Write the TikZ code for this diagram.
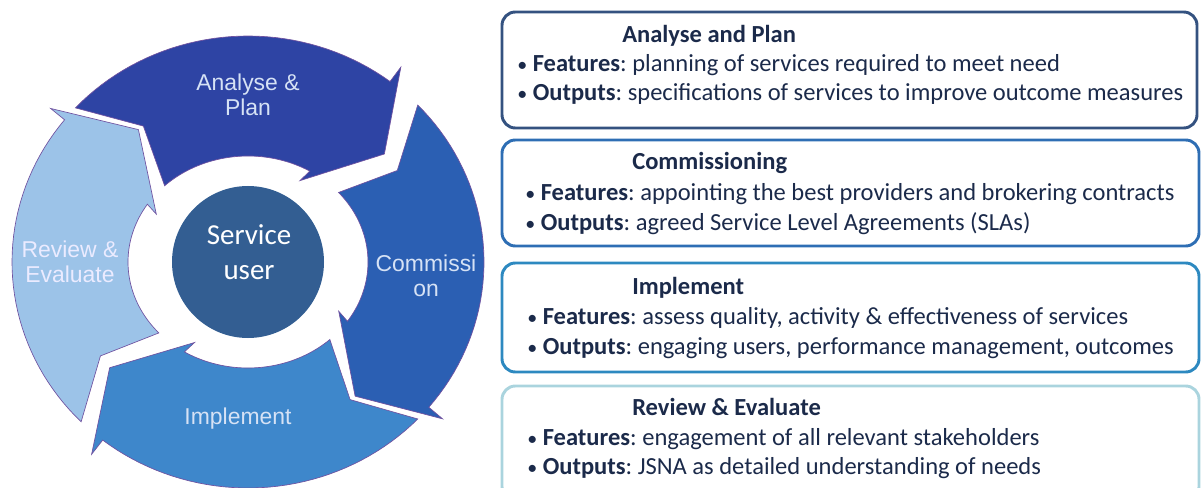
\documentclass[tikz,border=0pt]{standalone}
\usepackage{fontspec}
\setmainfont{Carlito}
\newfontfamily\ringfont{Liberation Sans}
\usepackage{tikz}
\usetikzlibrary{positioning}

\definecolor{analyse}{RGB}{46,68,164}
\definecolor{commission}{RGB}{43,95,179}
\definecolor{implement}{RGB}{62,135,203}
\definecolor{review}{RGB}{156,195,232}
\definecolor{hub}{RGB}{51,94,146}
\definecolor{rim}{RGB}{112,82,160}
\definecolor{ink}{RGB}{27,42,74}
\definecolor{pale}{RGB}{214,226,245}
\definecolor{frameA}{RGB}{52,82,128}
\definecolor{frameB}{RGB}{46,110,180}
\definecolor{frameC}{RGB}{45,137,192}
\definecolor{frameD}{RGB}{170,212,222}

\newcommand{\dotitem}{{\fontsize{15}{15}\selectfont•}\ }

\frenchspacing

\begin{document}
\begin{tikzpicture}[x=0.75pt,
            y=-0.75pt,
            ringarrow/.style={draw=rim, line width=0.5pt},
            ringtext/.style={font=\ringfont\fontsize{17.2}{18.8}\selectfont,
                             align=center, text=pale, inner sep=0pt},
            hubtext/.style={font=\fontsize{21.7}{26.3}\selectfont,
                            align=center, text=white, inner sep=0pt},
            infobox/.style={line width=2.2pt, rounded corners=10pt},
            boxtitle/.style={anchor=base west, inner sep=0pt, text=ink,
                             font=\bfseries\fontsize{18.4}{22}\selectfont},
            boxline/.style={anchor=base west, inner sep=0pt, text=ink,
                            font=\fontsize{18.4}{22}\selectfont}]

        \useasboundingbox (0,0) rectangle (1201,488);

        % the four arrows of the cycle (tail angle / colour)
        \foreach \a/\c in {137/analyse, 44/commission, -44/implement, -135/review}
            \filldraw[ringarrow, fill=\c]
                plot[domain=\a:\a-84, samples=40, variable=\t]
                    ({248+236*cos(\t)}, {262-226*sin(\t)})
                -- ({248+254*cos(\a-84)}, {262-244*sin(\a-84)})
                -- ({248+178*cos(\a-97)}, {262-168*sin(\a-97)})
                -- ({248+107*cos(\a-76)}, {262-93*sin(\a-76)})
                -- plot[domain=\a-78:\a-3, samples=40, variable=\t]
                    ({248+120*cos(\t)}, {262-106*sin(\t)})
                -- ({248+178*cos(\a-11)}, {262-168*sin(\a-11)})
                -- cycle;

        \node[circle, fill=hub, minimum size=114pt, inner sep=0pt] (hub) at (248,262) {};
        \node[hubtext] (user) at (249,252) {Service\\user};

        \node[ringtext] (plan)   at (248,95)  {Analyse \&\\Plan};
        \node[ringtext] (comm)   at (426,276) {Commissi\\on};
        \node[ringtext] (impl)   at (238,419) {Implement};
        \node[ringtext, text=white!92!blue] (eval) at (70,262) {Review \&\\Evaluate};

        % the four boxes on the right
        \draw[infobox, draw=frameA] (502,12)  rectangle (1197,128);
        \draw[infobox, draw=frameB] (502,140) rectangle (1199,246);
        \draw[infobox, draw=frameC] (502,263) rectangle (1199,372);
        \draw[infobox, draw=frameD] (502,386) rectangle (1199,500);

        \node[boxtitle] (t1) at (622,43)  {Analyse and Plan};
        \node[boxline]  (f1) at (517,72)  {\dotitem\textbf{Features}: planning of services required to meet need};
        \node[boxline]  (o1) at (517,101) {\dotitem\textbf{Outputs}: specifications of services to improve outcome measures};

        \node[boxtitle] (t2) at (632,170) {Commissioning};
        \node[boxline]  (f2) at (525,200) {\dotitem\textbf{Features}: appointing the best providers and brokering contracts};
        \node[boxline]  (o2) at (525,230) {\dotitem\textbf{Outputs}: agreed Service Level Agreements (SLAs)};

        \node[boxtitle] (t3) at (632,294) {Implement};
        \node[boxline]  (f3) at (527,324) {\dotitem\textbf{Features}: assess quality, activity \& effectiveness of services};
        \node[boxline]  (o3) at (527,354) {\dotitem\textbf{Outputs}: engaging users, performance management, outcomes};

        \node[boxtitle] (t4) at (632,415) {Review \& Evaluate};
        \node[boxline]  (f4) at (527,445) {\dotitem\textbf{Features}: engagement of all relevant stakeholders};
        \node[boxline]  (o4) at (527,474) {\dotitem\textbf{Outputs}: JSNA as detailed understanding of needs};

    \end{tikzpicture}
\end{document}
